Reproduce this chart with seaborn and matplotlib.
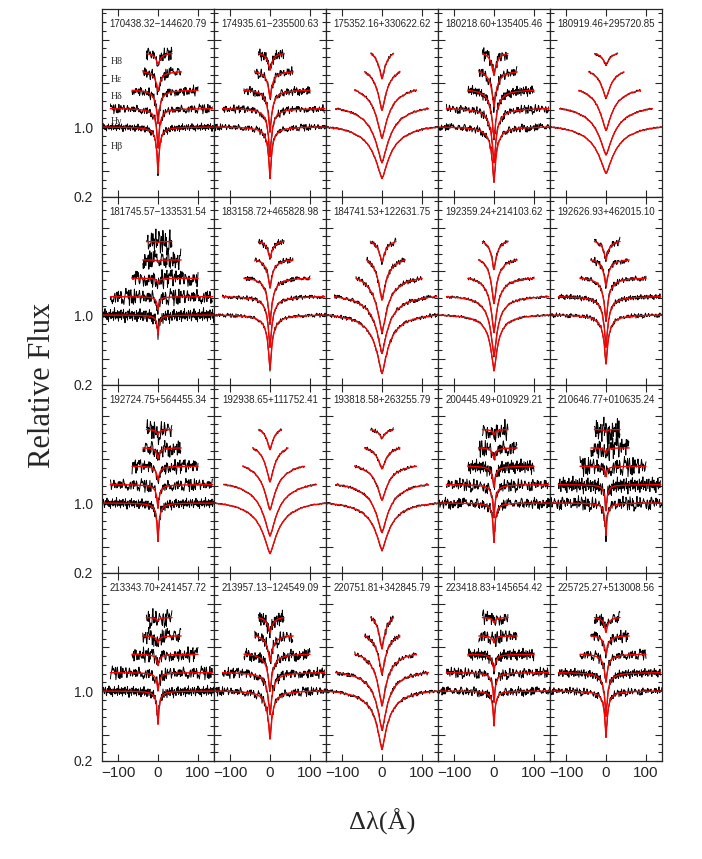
import numpy as np
import matplotlib
matplotlib.use("Agg")
import matplotlib.pyplot as plt
from matplotlib.ticker import FixedLocator, MultipleLocator
import seaborn as sns

# star names, in panel order (row by row)
NAMES = [
    "170438.32\u2212144620.79", "174935.61\u2212235500.63", "175352.16+330622.62",
    "180218.60+135405.46", "180919.46+295720.85",
    "181745.57\u2212133531.54", "183158.72+465828.98", "184741.53+122631.75",
    "192359.24+214103.62", "192626.93+462015.10",
    "192724.75+564455.34", "192938.65+111752.41", "193818.58+263255.79",
    "200445.49+010929.21", "210646.77+010635.24",
    "213343.70+241457.72", "213957.13\u2212124549.09", "220751.81+342845.79",
    "223418.83+145654.42", "225725.27+513008.56",
]

# line depth below continuum for [Hb, Hg, Hd, He, H8]
DEPTHS = [
    [0.53, 0.45, 0.38, 0.22, 0.12], [0.59, 0.55, 0.48, 0.30, 0.19],
    [0.59, 0.62, 0.55, 0.44, 0.29], [0.63, 0.62, 0.55, 0.40, 0.25],
    [0.53, 0.53, 0.46, 0.30, 0.13],
    [0.22, 0.15, 0.06, 0.02, 0.01], [0.62, 0.58, 0.52, 0.32, 0.19],
    [0.67, 0.65, 0.62, 0.46, 0.23], [0.64, 0.68, 0.62, 0.50, 0.32],
    [0.56, 0.58, 0.48, 0.30, 0.21],
    [0.44, 0.27, 0.16, 0.12, 0.06], [0.58, 0.59, 0.50, 0.39, 0.23],
    [0.54, 0.55, 0.39, 0.24, 0.10], [0.45, 0.38, 0.24, 0.13, 0.06],
    [0.37, 0.30, 0.12, 0.06, 0.03],
    [0.38, 0.21, 0.13, 0.08, 0.04], [0.55, 0.48, 0.42, 0.29, 0.17],
    [0.67, 0.66, 0.59, 0.44, 0.36], [0.40, 0.34, 0.19, 0.08, 0.06],
    [0.53, 0.50, 0.32, 0.21, 0.17],
]

# half width at half depth (Angstrom) for each line
WIDTHS = [
    [3.5, 4, 5, 6, 7], [4.5, 5, 5.5, 6, 6], [26, 24, 20, 15, 11],
    [6, 6.5, 7, 7, 7], [28, 26, 21, 16, 11],
    [3, 3, 3, 3, 3], [6, 6, 6.5, 7, 7], [20, 19, 17, 13, 10],
    [11, 11, 10, 9, 8], [6, 6, 6.5, 7, 7],
    [3, 3.5, 4, 4, 4], [26, 24, 20, 15, 11], [24, 22, 18, 14, 10],
    [3, 3.5, 4, 4, 4], [3, 3, 3, 3, 3],
    [3, 3.5, 4, 4, 4], [6, 6, 6.5, 7, 7], [18, 17, 15, 12, 10],
    [3, 3.5, 4, 4, 4], [4, 4.5, 5, 5, 5],
]

# noise level of the observed spectrum at Hb
NOISE = [0.020, 0.017, 0.005, 0.020, 0.004,
         0.035, 0.010, 0.010, 0.006, 0.012,
         0.027, 0.004, 0.006, 0.028, 0.036,
         0.028, 0.023, 0.010, 0.023, 0.020]

# stars whose higher lines were cut to a short, symmetric window
SHORT = [False, False, True, False, True,
         False, False, False, False, False,
         False, True, True, False, False,
         False, False, True, False, False]

LINE_LABELS = ["H\u03b2", "H\u03b3", "H\u03b4", "H\u03b5", "H8"]
OFFSETS = [0.0, 0.21, 0.42, 0.63, 0.84]
NOISE_GROWTH = [1.0, 1.15, 1.3, 1.5, 1.75]
RANGE_LONG = [(-150, 150), (-119, 137), (-65, 100), (-38, 58), (-29, 35)]
RANGE_SHORT = [(-150, 150), (-116, 116), (-68, 86), (-43, 45), (-28, 29)]

# line shape: fraction of full depth vs distance in units of the half width
PROFILE_U = [0, 0.1, 0.2, 0.35, 0.5, 0.7, 1.0, 1.4, 2, 3, 4, 6, 8, 12,
             18, 25, 40, 60, 100]
PROFILE_G = [1.0, 0.962, 0.905, 0.813, 0.725, 0.622, 0.5, 0.384, 0.275,
             0.177, 0.126, 0.075, 0.052, 0.030, 0.0172, 0.0109, 0.0057,
             0.0032, 0.0016]

# residual pattern (units of sigma) for the observed spectra
RESID = [0.3, -1.1, 0.8, 1.6, -0.4, -1.9, 0.2, 1.0, -0.7, 0.5, 2.1, -0.9,
         -0.2, 1.3, -1.5, 0.6, -0.1, -2.2, 0.9, 0.4, -0.6, 1.8, -1.2, 0.1,
         0.7, -0.8, 1.1, -1.7, 0.0, 2.4, -0.5, -1.3, 0.9, 0.3, -1.0, 1.5,
         -0.3, -2.0, 1.2, 0.5, -0.9, 0.2, 1.7, -1.4, -0.6, 0.8, -0.2, 1.9,
         -1.1, 0.4, -2.5, 0.6, 1.0, -0.7, 0.1, -1.6, 1.4, 0.3, -0.4, 2.0,
         -1.2, 0.7, -0.1, -0.9, 1.3, -1.8, 0.5, 0.9, -0.3, 1.1, -1.4, 0.2,
         -0.6, 1.6, -2.1, 0.8, 0.0, -1.0, 1.2, -0.5, 2.2, -1.3, 0.4, -0.8,
         1.0, -0.2, -1.7, 0.6, 1.5]
STEPS = [1, 3, 7, 11, 5]


def line_model(dl, depth, width, lo, hi):
    """normalised line profile, continuum at 1 at the window edges"""
    g = np.interp(np.abs(dl) / width, PROFILE_U, PROFILE_G)
    edge = np.where(dl < 0, min(-lo, 140), min(hi, 140))
    ge = np.interp(edge / width, PROFILE_U, PROFILE_G)
    shape = np.clip((g - ge) / (1 - ge), 0, None)
    return 1 - depth * shape


sns.set_style("ticks")
plt.rcParams['font.family'] = ['Liberation Sans', 'DejaVu Sans']
plt.rcParams['axes.linewidth'] = 0.9
SERIF = ['Liberation Serif', 'DejaVu Serif']

fig, axes = plt.subplots(4, 5, figsize=(7.02, 8.59), dpi=100,
                         sharex=True, sharey=True)
fig.subplots_adjust(left=102 / 702, right=662 / 702, top=1 - 9 / 859,
                    bottom=1 - 761 / 859, hspace=0, wspace=0)

resid = np.array(RESID)
npat = len(resid)
for s, ax in enumerate(axes.flat):
    ranges = RANGE_SHORT if SHORT[s] else RANGE_LONG
    for j in range(5):
        lo, hi = ranges[j]
        depth, width = DEPTHS[s][j], WIDTHS[s][j]
        x_obs = np.arange(lo, hi + 0.01, 1.25)
        idx = (s * 17 + j * 29 + STEPS[(s + j) % 5] * np.arange(len(x_obs))) % npat
        y_obs = (line_model(x_obs, depth, width, lo, hi) + OFFSETS[j]
                 + NOISE[s] * NOISE_GROWTH[j] * resid[idx])
        sns.lineplot(x=x_obs, y=y_obs, ax=ax, color='black', lw=0.7,
                     estimator=None, sort=False)
        x_mod = np.arange(lo, hi + 0.01, 0.5)
        y_mod = line_model(x_mod, depth, width, lo, hi) + OFFSETS[j]
        sns.lineplot(x=x_mod, y=y_mod, ax=ax, color='red', lw=1.0,
                     estimator=None, sort=False)

    ax.text(0.5, 0.92, NAMES[s], transform=ax.transAxes, ha='center',
            va='center', fontsize=7)
    ax.set_xlim(-140, 140)
    ax.set_ylim(0.2, 2.35)
    ax.xaxis.set_major_locator(FixedLocator([-100, 0, 100]))
    ax.yaxis.set_major_locator(FixedLocator([0.2, 0.5, 1.0, 1.5, 2.0]))
    ax.yaxis.set_minor_locator(MultipleLocator(0.1))
    ax.set_yticklabels(['0.2', '', '1.0', '', ''])
    ax.tick_params(which='both', direction='in', top=True, right=True,
                   width=0.8)
    ax.tick_params(which='major', length=5)
    ax.tick_params(which='minor', length=2.7)
    ax.tick_params(axis='x', labelsize=11, pad=3.5)
    ax.tick_params(axis='y', labelsize=10, pad=6.5)
    ax.set_xlabel('')
    ax.set_ylabel('')

# line names in the first panel
LABEL_Y = [0.78, 1.06, 1.35, 1.54, 1.75]
for j in range(5):
    axes[0, 0].text(-118, LABEL_Y[j], LINE_LABELS[j], ha='left', va='center',
                    fontsize=7, family=SERIF)

fig.text(0.06, 1 - 385 / 859, 'Relative Flux', rotation=90, ha='center',
         va='center', fontsize=22, family=SERIF)
fig.text(382 / 702, 1 - 822 / 859, '\u0394\u03bb(\u00c5)', ha='center',
         va='center', fontsize=19, family=SERIF)

fig.savefig('out.png', dpi=100)
